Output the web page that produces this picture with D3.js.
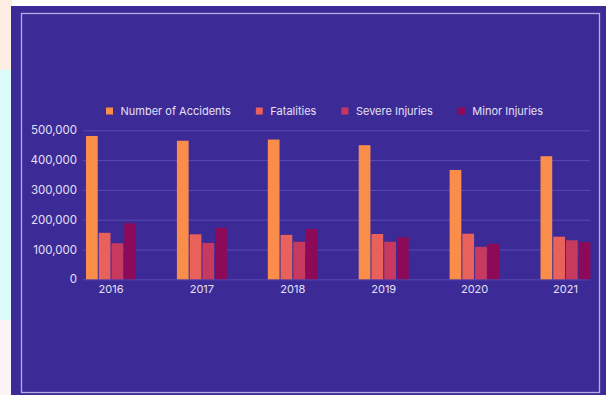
<!DOCTYPE html>
<html>
<head>
<meta charset="utf-8">
<script src="https://cdn.jsdelivr.net/npm/d3@7"></script>
<style>
  html, body { margin: 0; padding: 0; background: #ffffff; }
  svg { display: block; }
  text { font-family: Inter, "Open Sans", sans-serif; }
</style>
</head>
<body>
<svg id="chart" width="606" height="395"></svg>
<script>
// ---- data ----
const years = ["2016", "2017", "2018", "2019", "2020", "2021"];
const seriesNames = ["Number of Accidents", "Fatalities", "Severe Injuries", "Minor Injuries"];
const accidents = [481000, 465000, 469000, 450000, 367000, 413000];
const fatalities = [156000, 151000, 149000, 152000, 153000, 143000];
const severeInjuries = [121000, 122000, 126000, 126000, 109000, 131000];
const minorInjuries = [188000, 173000, 169000, 141000, 119000, 125000];
const yTicks = [0, 100000, 200000, 300000, 400000, 500000];
const seriesColors = ["#fb8d4b", "#e8615a", "#c8395f", "#8c0a57"];

const seriesValues = [accidents, fatalities, severeInjuries, minorInjuries];
const table = years.map((y, i) => ({
  year: y,
  values: seriesNames.map((s, j) => ({ key: s, value: seriesValues[j][i] }))
}));

const svg = d3.select("#chart");

// faint page background decorations
svg.append("rect").attr("x", 0).attr("y", 70).attr("width", 12).attr("height", 250).attr("fill", "#dcfbfd");
svg.append("rect").attr("x", 0).attr("y", 0).attr("width", 12).attr("height", 70).attr("fill", "#fdeee4");
svg.append("rect").attr("x", 0).attr("y", 320).attr("width", 12).attr("height", 75).attr("fill", "#fbf3f6");

// panel
svg.append("rect").attr("x", 11).attr("y", 6).attr("width", 595).attr("height", 389).attr("fill", "#3c2a97");
svg.append("rect").attr("x", 21.5).attr("y", 13.5).attr("width", 578).attr("height", 379)
  .attr("fill", "none").attr("stroke", "#b7aee0").attr("stroke-width", 1.3);

// scales
const plotLeft = 83, plotRight = 590;
const x0 = d3.scaleBand().domain(years).range([86, 590.5]).paddingInner(0.45).paddingOuter(0);
const x1 = d3.scaleBand().domain(seriesNames).range([0, x0.bandwidth()]).paddingInner(0.08);
const y = d3.scaleLinear().domain([0, 500000]).range([279.3, 130.3]);
const color = d3.scaleOrdinal().domain(seriesNames).range(seriesColors);

// y axis + grid
const yAxis = svg.append("g").attr("transform", `translate(${plotLeft},0)`)
  .call(d3.axisLeft(y).tickValues(yTicks).tickFormat(d3.format(","))
    .tickSize(-(plotRight - plotLeft)).tickPadding(6));
yAxis.select(".domain").remove();
yAxis.selectAll(".tick line").attr("stroke", "#5a4bb3").attr("stroke-width", 1);
yAxis.selectAll(".tick text").attr("fill", "#e4e0f4").attr("font-size", 11.5)
  .style("font-family", "Inter, sans-serif");

// bars
const groups = svg.append("g").selectAll("g").data(table).join("g")
  .attr("transform", d => `translate(${x0(d.year)},0)`);
groups.selectAll("rect").data(d => d.values).join("rect")
  .attr("x", d => x1(d.key))
  .attr("y", d => y(d.value))
  .attr("width", x1.bandwidth())
  .attr("height", d => y(0) - y(d.value))
  .attr("fill", d => color(d.key));

// x axis labels
const xAxis = svg.append("g").attr("transform", `translate(0,${y(0)})`)
  .call(d3.axisBottom(x0).tickSize(0).tickPadding(6));
xAxis.select(".domain").remove();
xAxis.selectAll(".tick text").attr("fill", "#e4e0f4").attr("font-size", 11)
  .style("font-family", "Inter, sans-serif");

// legend
const legend = svg.append("g").attr("transform", "translate(106,111)");
let lx = 0;
seriesNames.forEach((s, i) => {
  const g = legend.append("g").attr("transform", `translate(${lx},0)`);
  g.append("rect").attr("x", 0).attr("y", -3.5).attr("width", 7).attr("height", 7).attr("fill", color(s));
  const t = g.append("text").attr("x", 14.5).attr("y", 0).attr("dy", "0.35em")
    .attr("fill", "#e4e0f4").attr("font-size", 11).text(s);
  lx += 14.5 + t.node().getComputedTextLength() + 25;
});
</script>
</body>
</html>
